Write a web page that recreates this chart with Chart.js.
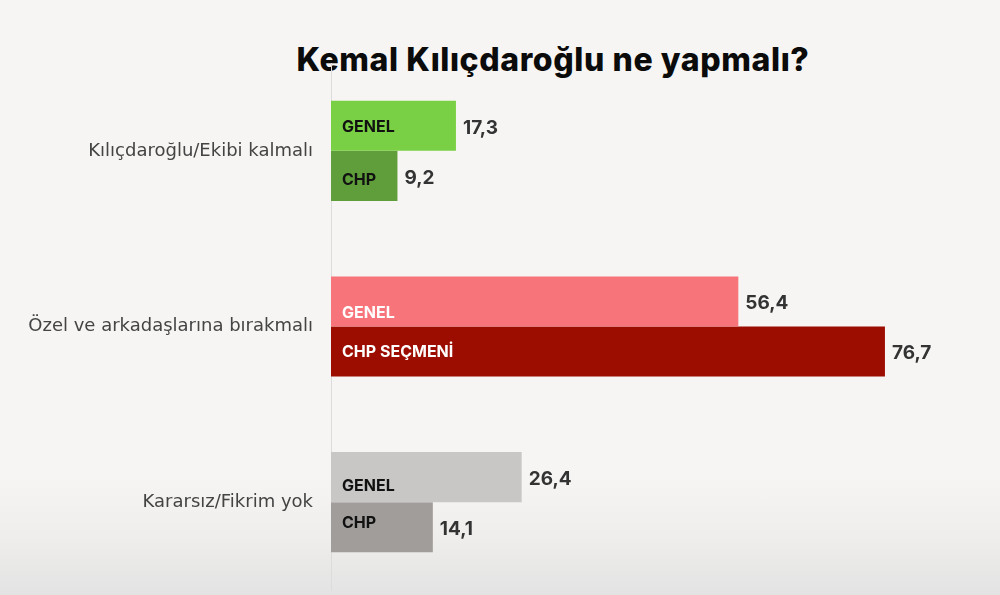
<!DOCTYPE html>
<html>
<head>
<meta charset="utf-8">
<script src="https://cdn.jsdelivr.net/npm/chart.js@4.4.1/dist/chart.umd.min.js"></script>
<style>
  html, body { margin: 0; padding: 0; }
  body {
    width: 1000px; height: 595px; overflow: hidden; position: relative;
    background: linear-gradient(to bottom, #f6f5f3 0%, #f6f5f3 80%, #efeeec 90%, #e3e3e3 100%);
  }
  #title {
    position: absolute; left: 0; top: 40px; width: 1106px; text-align: center;
    font-family: Inter, "Noto Sans", sans-serif; font-weight: 800; font-size: 32px;
    color: #0b0b0b; letter-spacing: 0.6px; line-height: 40px;
  }
  #chart { position: absolute; left: 0; top: 0; }
</style>
</head>
<body>
<div id="title">Kemal Kılıçdaroğlu ne yapmalı?</div>
<canvas id="chart" width="1000" height="595"></canvas>
<script>
// data
let categories = ['Kılıçdaroğlu/Ekibi kalmalı', 'Özel ve arkadaşlarına bırakmalı', 'Kararsız/Fikrim yok']
let genelValues = [17.3, 56.4, 26.4]
let chpValues = [9.2, 76.7, 14.1]
let genelNames = ['GENEL', 'GENEL', 'GENEL']
let chpNames = ['CHP', 'CHP SEÇMENİ', 'CHP']

// colours
let genelColors = ['#7ad045', '#f7747a', '#c8c7c5']
let chpColors = ['#5f9e3b', '#9c0d00', '#a09d9b']
let genelTextColors = ['#111111', '#ffffff', '#111111']
let chpTextColors = ['#111111', '#ffffff', '#111111']
// small vertical shifts of the in-bar names, as in the picture
let genelNameShift = [1, 12, 9]
let chpNameShift = [4, 1, -4]

// draws the name inside each bar and the value to its right
let barLabels = {
    id: 'barLabels',
    afterDatasetsDraw(chart)
    {
        let ctx = chart.ctx
        ctx.save()
        ctx.textBaseline = 'middle'
        chart.data.datasets.forEach((ds, di) => {
            let meta = chart.getDatasetMeta(di)
            meta.data.forEach((bar, i) => {
                let names = di == 0 ? genelNames : chpNames
                let colors = di == 0 ? genelTextColors : chpTextColors
                let shift = di == 0 ? genelNameShift : chpNameShift
                ctx.font = '700 16px Inter, "Noto Sans", sans-serif'
                ctx.fillStyle = colors[i]
                ctx.textAlign = 'left'
                ctx.fillText(names[i], bar.base + 11, bar.y + shift[i])

                ctx.font = '700 19px Inter, "Noto Sans", sans-serif'
                ctx.fillStyle = '#333333'
                ctx.fillText(ds.data[i].toFixed(1).replace('.', ','), bar.x + 7, bar.y + 2)
            })
        })
        ctx.restore()
    }
}

let ctxChart = document.getElementById('chart').getContext('2d')
let chart = new Chart(ctxChart, {
    type: 'bar',
    data: {
        labels: categories,
        datasets: [{
            label: 'GENEL',
            data: genelValues,
            backgroundColor: genelColors,
            borderWidth: 0
        }, {
            label: 'CHP',
            data: chpValues,
            backgroundColor: chpColors,
            borderWidth: 0
        }]
    },
    options: {
        indexAxis: 'y',
        responsive: false,
        animation: false,
        layout: { padding: { top: 63, bottom: 5, left: 0, right: 19 } },
        barPercentage: 1,
        categoryPercentage: 0.57,
        plugins: {
            legend: { display: false },
            tooltip: { enabled: false }
        },
        scales: {
            x: {
                display: false,
                min: 0,
                max: 90
            },
            y: {
                grid: { display: false, drawTicks: false },
                border: { display: true, color: '#dcdcdc', width: 1 },
                ticks: {
                    padding: 18,
                    color: '#444444',
                    font: { family: '"DejaVu Sans", sans-serif', size: 18, weight: '500' }
                },
                afterFit(scale)
                {
                    scale.width = 331
                    scale.paddingTop = 0
                    scale.paddingBottom = 0
                }
            }
        }
    },
    plugins: [barLabels]
})
</script>
</body>
</html>
